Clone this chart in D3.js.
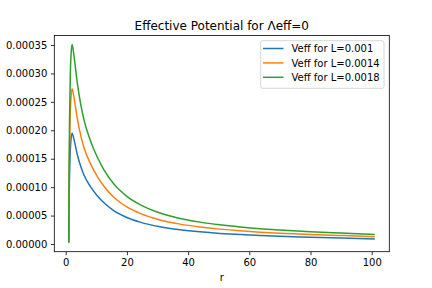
<!DOCTYPE html>
<html>

<head>
    <script type="text/javascript" src="https://d3js.org/d3.v7.min.js"></script>
    <style>
        body { margin: 0; background: white; }
        text { font-family: "DejaVu Sans", sans-serif; fill: #000; }
    </style>
</head>

<body>
    <script>

        // values
        var rVals = [1.0, 1.1, 1.25, 1.5, 1.8, 2.1, 2.7, 3.8, 5, 6, 8.2, 10.3, 12.5, 15.8, 17.7, 20, 24.3, 30.8, 37.4, 43.9, 50.4, 57, 63.5, 70, 80, 90, 101]
        var veff1 = [0.000002, 0.00007, 0.00012, 0.000165, 0.000188, 0.000195, 0.000184, 0.000157, 0.000135, 0.000121, 0.0001, 0.000085, 0.0000725, 0.0000585, 0.0000525, 0.0000466, 0.0000385, 0.0000303, 0.000025, 0.0000214, 0.0000187, 0.0000166, 0.0000149, 0.0000136, 0.000012, 0.0000105, 0.000009]
        var veff2 = [0.0000028, 0.000098, 0.000168, 0.000231, 0.000263, 0.000273, 0.000258, 0.00022, 0.000189, 0.000169, 0.00014, 0.000119, 0.0001015, 0.0000819, 0.0000735, 0.0000652, 0.0000539, 0.0000424, 0.000035, 0.00003, 0.0000262, 0.0000232, 0.0000209, 0.000019, 0.0000168, 0.000015, 0.000013]
        var veff3 = [0.0000036, 0.000126, 0.000216, 0.000297, 0.000338, 0.000351, 0.000331, 0.000283, 0.000243, 0.000218, 0.00018, 0.000153, 0.0001305, 0.0001053, 0.0000945, 0.0000839, 0.0000693, 0.0000545, 0.000045, 0.0000385, 0.0000337, 0.0000299, 0.0000268, 0.0000245, 0.0000216, 0.0000193, 0.0000167]
        var seriesNames = ["Veff for L=0.001", "Veff for L=0.0014", "Veff for L=0.0018"]
        var xTicks = [0, 20, 40, 60, 80, 100]
        var yTicks = [0, 0.00005, 0.0001, 0.00015, 0.0002, 0.00025, 0.0003, 0.00035]

        var colors = ["#1f77b4", "#ff7f0e", "#2ca02c"]
        var allSeries = [veff1, veff2, veff3]

        var w = 432, h = 288
        // plot box edges (window.top is read-only, so no "top" here)
        var axL = 54.3, axR = 389.3, axT = 35.5, axB = 251.7

        var svg = d3.select('body').append('svg')
        svg.attr('width', w).attr('height', h);

        let xscale = d3.scaleLinear()
            .domain([-3.73, 105.75])
            .range([axL, axR])

        let yscale = d3.scaleLinear()
            .domain([-0.0000135, 0.0003667])
            .range([axB, axT])

        // axes
        var xAxis = svg.append("g")
            .attr("transform", "translate(0," + axB + ")")
            .call(d3.axisBottom(xscale).tickValues(xTicks).tickSize(3.5).tickPadding(3.5))

        var yAxis = svg.append("g")
            .attr("transform", "translate(" + axL + ",0)")
            .call(d3.axisLeft(yscale).tickValues(yTicks).tickFormat(d3.format(".5f")).tickSize(3.5).tickPadding(3.5))

        svg.selectAll(".domain").remove()
        svg.selectAll(".tick line").attr("stroke", "#000").attr("stroke-width", 0.8)
        svg.selectAll(".tick text").attr("font-size", 10).attr("font-family", "DejaVu Sans").attr("fill", "#000")

        // lines
        var line = d3.line()
            .x((d, i) => xscale(rVals[i]))
            .y(d => yscale(d))
            .curve(d3.curveMonotoneX)

        allSeries.forEach(function (s, k) {
            svg.append("path")
                .datum(s)
                .attr("d", line)
                .attr("fill", "none")
                .attr("stroke", colors[k])
                .attr("stroke-width", 1.5)
        })

        // frame
        svg.append("rect")
            .attr("x", axL)
            .attr("y", axT)
            .attr("width", axR - axL)
            .attr("height", axB - axT)
            .attr("fill", "none")
            .attr("stroke", "#000")
            .attr("stroke-width", 0.8)

        // title and label
        svg.append("text")
            .attr("x", (axL + axR) / 2)
            .attr("y", axT - 6)
            .attr("text-anchor", "middle")
            .attr("font-size", 12)
            .text("Effective Potential for Λeff=0")

        svg.append("text")
            .attr("x", (axL + axR) / 2)
            .attr("y", 281)
            .attr("text-anchor", "middle")
            .attr("font-size", 10)
            .text("r")

        // legend
        var legend = svg.append("g")
        legend.append("rect")
            .attr("x", 260.7)
            .attr("y", 40.7)
            .attr("width", 123.3)
            .attr("height", 47.6)
            .attr("rx", 2)
            .attr("fill", "white")
            .attr("fill-opacity", 0.8)
            .attr("stroke", "#cccccc")
            .attr("stroke-width", 0.8)

        seriesNames.forEach(function (name, k) {
            var yy = 48.5 + k * 14.4
            legend.append("line")
                .attr("x1", 263)
                .attr("x2", 283.5)
                .attr("y1", yy)
                .attr("y2", yy)
                .attr("stroke", colors[k])
                .attr("stroke-width", 1.5)
            legend.append("text")
                .attr("x", 291.5)
                .attr("y", yy + 3.6)
                .attr("font-size", 10)
                .text(name)
        })

    </script>
</body>
